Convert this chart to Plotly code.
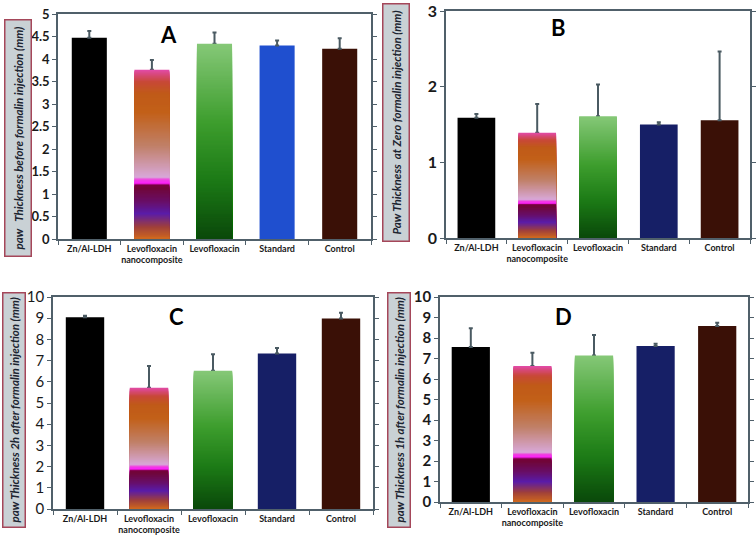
import numpy as np
import plotly.graph_objects as go

categories = ["Zn/Al-LDH", "Levofloxacin<br>nanocomposite", "Levofloxacin", "Standard", "Control"]

vals_A = [4.47, 3.76, 4.34, 4.30, 4.23]
err_A = [0.15, 0.22, 0.25, 0.11, 0.23]
vals_B = [1.59, 1.39, 1.61, 1.50, 1.555]
err_B = [0.05, 0.38, 0.42, 0.03, 0.91]
vals_C = [9.04, 5.72, 6.52, 7.34, 8.98]
err_C = [0.08, 1.02, 0.78, 0.26, 0.28]
vals_D = [7.56, 6.63, 7.15, 7.61, 8.58]
err_D = [0.92, 0.65, 1.0, 0.11, 0.17]

ytitles = {
    "A": "paw   Thickness before formalin injection (mm)",
    "B": "Paw Thickness  at Zero formalin injection (mm)",
    "C": "paw Thickness 2h after formalin injection (mm)",
    "D": "paw Thickness 1h after formalin injection (mm)",
}

W, H = 756, 540

def px(x):
    return x / W

def py(y):
    return 1 - y / H

# gradient stops (fraction of bar height from bottom, color)
nano_stops = [
    (0.00, "#d0691e"), (0.07, "#a0403a"), (0.15, "#5a1ca8"), (0.22, "#680e68"),
    (0.30, "#700638"), (0.322, "#7a0040"), (0.325, "#ff18ff"), (0.35, "#f040e0"),
    (0.365, "#d8a8d8"), (0.55, "#c08068"), (0.75, "#c26018"), (0.86, "#c05a18"),
    (0.93, "#c84838"), (1.00, "#e24aa8"),
]
green_stops = [
    (0.00, "#0a480a"), (0.30, "#1c7a16"), (0.60, "#3e9e2e"), (1.00, "#86c878"),
]

def hex2rgb(h):
    h = h.lstrip("#")
    return np.array([int(h[i:i + 2], 16) for i in (0, 2, 4)], dtype=float)

def grad_colors(stops, n):
    fr = np.array([s[0] for s in stops])
    cols = np.array([hex2rgb(s[1]) for s in stops])
    tops = (np.arange(n) + 1.0) / n
    out = []
    for m in tops:
        c = [np.interp(m - 0.5 / n, fr, cols[:, k]) for k in range(3)]
        out.append("rgb(%d,%d,%d)" % tuple(int(round(v)) for v in c))
    return out

N = 150
panels = [
    dict(key="A", vals=vals_A, errs=err_A, ymax=5, dtick=0.5, std="#1f4fcf",
         xd=[px(58), px(371)], yd=[py(239), py(14)], tf=dict(size=13, weight="bold"),
         letter=(168, 35), box=(18, 138), pad=6, width=0.56),
    dict(key="B", vals=vals_B, errs=err_B, ymax=3, dtick=1, std="#161f66",
         xd=[px(446), px(750)], yd=[py(238), py(11)], tf=dict(size=16, weight="bold"),
         letter=(558, 28), box=(396, 123), pad=6, width=0.62),
    dict(key="C", vals=vals_C, errs=err_C, ymax=10, dtick=1, std="#161f66",
         xd=[px(53), px(373)], yd=[py(509), py(297)], tf=dict(size=15, weight="normal"),
         letter=(176, 316), box=(14, 410), pad=4, width=0.6),
    dict(key="D", vals=vals_D, errs=err_D, ymax=10, dtick=1, std="#161f66",
         xd=[px(440), px(748)], yd=[py(502), py(297)], tf=dict(size=15, weight="bold"),
         letter=(563, 316), box=(399, 410), pad=4, width=0.62),
]

fig = go.Figure()
annotations = []
axis_col = "#50606a"
err_col = "#4a5a62"

for i, p in enumerate(panels):
    idx = "" if i == 0 else str(i + 1)
    xa, ya = "x" + idx, "y" + idx
    colors = ["#000000", "rgba(0,0,0,0)", "rgba(0,0,0,0)", p["std"], "#3a1006"]
    fig.add_trace(go.Bar(
        x=categories, y=p["vals"], xaxis=xa, yaxis=ya, width=p["width"],
        marker=dict(color=colors, line=dict(width=0)),
        error_y=dict(type="data", symmetric=False, array=p["errs"],
                     arrayminus=[0] * 5, color=err_col, thickness=2, width=2),
        showlegend=False, hoverinfo="skip",
    ))
    for ci, stops in ((1, nano_stops), (2, green_stops)):
        v = p["vals"][ci]
        # nested bars from 0, tallest first so shorter ones paint over them
        heights = [v * (k + 1) / N for k in range(N)][::-1]
        cols = grad_colors(stops, N)[::-1]
        fig.add_trace(go.Bar(
            x=[categories[ci]] * N, y=heights,
            xaxis=xa, yaxis=ya, width=p["width"],
            marker=dict(color=cols, line=dict(width=0)),
            showlegend=False, hoverinfo="skip",
        ))
    lay_x = "xaxis" + idx
    lay_y = "yaxis" + idx
    fig.layout[lay_x] = dict(
        domain=p["xd"], anchor=ya, type="category", categoryorder="array",
        categoryarray=categories, showline=True, linecolor=axis_col, linewidth=1.5,
        mirror=True, ticks="outside", tickson="boundaries", ticklen=4,
        tickcolor=axis_col, showgrid=False, tickangle=0, automargin=False,
        ticklabeloverflow="allow",
        tickfont=dict(family="Lato", size=9, color="#1a1a1a", weight="bold"),
    )
    fig.layout[lay_y] = dict(
        domain=p["yd"], anchor=xa, range=[0, p["ymax"]], dtick=p["dtick"],
        showline=True, linecolor=axis_col, linewidth=1.5, mirror="ticks",
        ticks="outside", ticklen=4, tickcolor=axis_col, showgrid=False,
        zeroline=False, automargin=False, ticklabeloverflow="allow",
        tickfont=dict(family="Lato", size=p["tf"]["size"], color="#1a1a1a",
                      weight=p["tf"]["weight"]),
    )
    annotations.append(dict(
        x=px(p["letter"][0]), y=py(p["letter"][1]), xref="paper", yref="paper",
        xanchor="center", yanchor="middle",
        text="<b>%s</b>" % p["key"], showarrow=False,
        font=dict(family="Lato", size=22, color="#000000"),
    ))
    annotations.append(dict(
        x=px(p["box"][0]), y=py(p["box"][1]), xref="paper", yref="paper",
        xanchor="center", yanchor="middle",
        text="<b><i>%s</i></b>" % ytitles[p["key"]], textangle=-90, showarrow=False,
        font=dict(family="Lato", size=11.5, color="#1c2430"),
        bgcolor="#c9d1d5", bordercolor="#a5475a", borderwidth=1.5, borderpad=p["pad"],
    ))

fig.update_layout(
    width=W, height=H, margin=dict(l=0, r=0, t=0, b=0, autoexpand=False),
    paper_bgcolor="white", plot_bgcolor="white", barmode="overlay",
    annotations=annotations,
)

fig.write_html("out.html", config={"displayModeBar": False},
               post_script="document.body.style.margin='0px';document.body.style.padding='0px';")
